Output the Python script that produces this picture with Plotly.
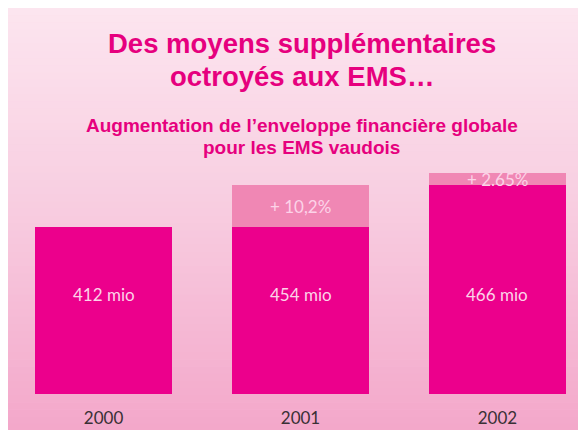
import plotly.graph_objects as go

# ---- data ----
years = ["2000", "2001", "2002"]
base_values = [412, 412, 454]          # mio, dark part of each bar
increase_values = [0, 42, 12]          # mio, light increase segment
total_labels = ["412 mio", "454 mio", "466 mio"]
increase_labels = ["", "+ 10,2%", "+ 2.65%"]

title_line1 = "Des moyens supplémentaires"
title_line2 = "octroyés aux EMS…"
subtitle_line1 = "Augmentation de l’enveloppe financière globale"
subtitle_line2 = "pour les EMS vaudois"

# ---- style ----
W, H = 586, 430
M_T, M_B = 152, 44
PLOT_H = H - M_T - M_B
DARK = "#ec008c"
LIGHT = "#f087b4"
TITLE_C = "#e6007e"
INNER_TXT = "#fcd3e8"
TFONT = "Liberation Sans, Arial"


def py(p):
    """figure pixel y -> paper y"""
    return (H - M_B - p) / PLOT_H


fig = go.Figure()
fig.add_bar(x=years, y=base_values, marker=dict(color=DARK, line=dict(width=0)),
            width=0.695, hoverinfo="skip")
fig.add_bar(x=years, y=increase_values, base=base_values,
            marker=dict(color=LIGHT, line=dict(width=0)), width=0.695, hoverinfo="skip")

# gradient background as horizontal stripes
stops = [(0, (252, 229, 239)), (192, (248, 206, 225)), (430, (243, 166, 201))]
shapes = []
n = 60
for i in range(n):
    a = H * i / n
    b = H * (i + 1) / n
    m = (a + b) / 2
    for (sa, ca), (sb, cb) in zip(stops[:-1], stops[1:]):
        if sa <= m <= sb:
            t = (m - sa) / (sb - sa)
            c = tuple(round(ca[k] + (cb[k] - ca[k]) * t) for k in range(3))
            break
    shapes.append(dict(type="rect", xref="paper", yref="paper", layer="below",
                       x0=-0.01, x1=1.01, y0=py(b + 0.5), y1=py(a),
                       line=dict(width=0), fillcolor="rgb(%d,%d,%d)" % c))

annotations = []
for txt, yp, size in [(title_line1, 35, 27.5), (title_line2, 69, 27.5),
                      (subtitle_line1, 117, 19), (subtitle_line2, 139, 19)]:
    annotations.append(dict(text=txt, x=0.501, y=py(yp), xref="paper", yref="paper",
                            xanchor="center", yanchor="middle", showarrow=False,
                            font=dict(family=TFONT, size=size, color=TITLE_C, weight="bold")))

for i, lab in enumerate(total_labels):
    annotations.append(dict(text=lab, x=i, xref="x", y=py(286), yref="paper",
                            xanchor="center", yanchor="middle", showarrow=False,
                            font=dict(family="Lato", size=17, color=INNER_TXT)))
for i, (b, inc, lab) in enumerate(zip(base_values, increase_values, increase_labels)):
    if lab:
        annotations.append(dict(text=lab, x=i, xref="x", y=b + inc / 2, yref="y",
                                xanchor="center", yanchor="middle", showarrow=False,
                                font=dict(family="Lato", size=17, color=INNER_TXT)))

fig.update_layout(
    width=W, height=H,
    margin=dict(l=0, r=0, t=M_T, b=M_B, pad=0),
    paper_bgcolor="rgb(248,206,225)", plot_bgcolor="rgba(0,0,0,0)",
    barmode="stack", showlegend=False,
    shapes=shapes, annotations=annotations,
    xaxis=dict(type="category", range=[-0.485, 2.49], showgrid=False, zeroline=False,
               showline=False, ticks="outside", ticklen=9, tickcolor="rgba(0,0,0,0)",
               tickfont=dict(family="Lato", size=17, color="#3a3035"), automargin=False,
               fixedrange=True),
    yaxis=dict(range=[245, 245 + PLOT_H / 1.0], showgrid=False, zeroline=False,
               showline=False, showticklabels=False, ticks="", automargin=False,
               fixedrange=True),
)

fig.write_html("out.html")
